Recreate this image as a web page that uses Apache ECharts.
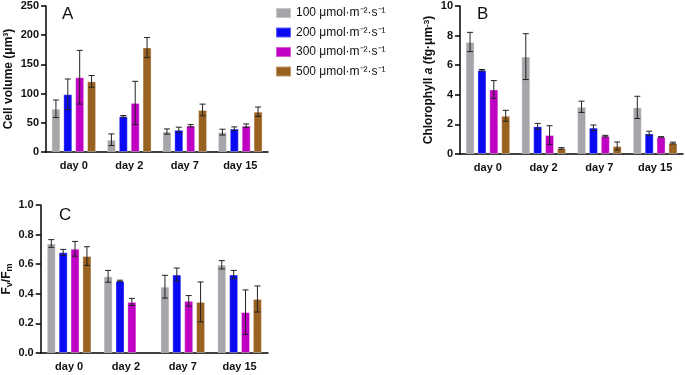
<!DOCTYPE html>
<html><head><meta charset="utf-8">
<script src="https://cdn.jsdelivr.net/npm/echarts@6/dist/echarts.min.js"></script>
<style>html,body{margin:0;padding:0;background:#fff}#c{width:685px;height:375px}</style>
</head><body><div id="c"></div>
<script>
const categories = ['day 0', 'day 2', 'day 7', 'day 15'];
const intensities = ['100', '200', '300', '500'];
const colors = ['#a6a6aa', '#0a0af2', '#c000c2', '#9a6220'];

// Panel A: cell volume (µm3)
const volMean = [
  [74, 21, 35, 34],
  [99, 61, 38, 40],
  [128, 84, 45, 45],
  [121, 179, 72, 69]
];
const volErr = [
  [15, 10, 4.5, 5],
  [26, 1.5, 4.5, 3],
  [46, 37, 2, 3],
  [10, 17, 10, 8]
];
// Panel B: chlorophyll a (fg/µm3)
const chlMean = [
  [7.57, 6.58, 3.19, 3.15],
  [5.66, 1.87, 1.78, 1.39],
  [4.36, 1.28, 1.21, 1.15],
  [2.58, 0.38, 0.54, 0.74]
];
const chlErr = [
  [0.65, 1.55, 0.38, 0.75],
  [0.05, 0.2, 0.18, 0.15],
  [0.6, 0.63, 0.05, 0.02],
  [0.37, 0.05, 0.27, 0.06]
];
// Panel C: Fv/Fm
const fvMean = [
  [0.74, 0.518, 0.448, 0.596],
  [0.68, 0.487, 0.53, 0.53],
  [0.704, 0.345, 0.352, 0.276],
  [0.655, null, 0.345, 0.365]
];
const fvErr = [
  [0.026, 0.04, 0.077, 0.028],
  [0.02, 0.005, 0.044, 0.028],
  [0.05, 0.024, 0.036, 0.15],
  [0.063, null, 0.135, 0.088]
];

const FONT = '"Liberation Sans", Arial, sans-serif';
const BW = 9, GAP = 0.32, N = 4;

function legendName(i) { return intensities[i] + ' μmol·m⁻²·s⁻¹'; }

function axisX(gi) {
  return {
    type: 'category', gridIndex: gi, data: categories,
    axisLine: { lineStyle: { color: '#000', width: 1.5 } },
    axisTick: { alignWithLabel: true, length: 5, lineStyle: { color: '#000', width: 1.5 } },
    axisLabel: { color: '#111', fontFamily: FONT, fontWeight: 'bold', fontSize: 11, margin: 8 },
    splitLine: { show: false }
  };
}
function axisY(gi, max, interval, name, nameGap, rich, fmt) {
  return {
    type: 'value', gridIndex: gi, min: 0, max: max, interval: interval,
    name: name, nameLocation: 'middle', nameGap: nameGap,
    nameTextStyle: { color: '#111', fontFamily: FONT, fontWeight: 'bold', fontSize: 12, rich: rich },
    axisLine: { show: true, lineStyle: { color: '#000', width: 1.5 } },
    axisTick: { show: true, length: 5, lineStyle: { color: '#000', width: 1.5 } },
    axisLabel: { color: '#111', fontFamily: FONT, fontWeight: 'bold', fontSize: 11, margin: 7, formatter: fmt },
    splitLine: { show: false }
  };
}

const series = [];
function addPanel(gi, means, errs) {
  for (let i = 0; i < N; i++) {
    series.push({
      type: 'bar', name: legendName(i), xAxisIndex: gi, yAxisIndex: gi,
      data: means[i], barWidth: BW, barGap: (GAP * 100) + '%',
      itemStyle: { color: colors[i], borderColor: 'rgba(255,255,255,0.35)', borderWidth: 1 },
      silent: true
    });
  }
  for (let i = 0; i < N; i++) {
    const d = [];
    for (let k = 0; k < categories.length; k++) {
      if (means[i][k] != null && errs[i][k] != null) d.push([k, means[i][k], errs[i][k]]);
    }
    series.push({
      type: 'custom', xAxisIndex: gi, yAxisIndex: gi, silent: true, z: 5,
      data: d,
      renderItem: (function (idx) {
        return function (params, api) {
          const k = api.value(0), m = api.value(1), e = api.value(2);
          const c = api.coord([k, m]);
          const total = N * BW + (N - 1) * BW * GAP;
          const x = c[0] - total / 2 + idx * BW * (1 + GAP) + BW / 2;
          const yt = api.coord([k, m + e])[1];
          const yb = api.coord([k, Math.max(0, m - e)])[1];
          const st = { stroke: '#222', lineWidth: 1 };
          return {
            type: 'group', children: [
              { type: 'line', shape: { x1: x, y1: yt, x2: x, y2: yb }, style: st },
              { type: 'line', shape: { x1: x - 3, y1: yt, x2: x + 3, y2: yt }, style: st },
              { type: 'line', shape: { x1: x - 3, y1: yb, x2: x + 3, y2: yb }, style: st }
            ]
          };
        };
      })(i)
    });
  }
}
addPanel(0, volMean, volErr);
addPanel(1, chlMean, chlErr);
addPanel(2, fvMean, fvErr);

const chart = echarts.init(document.getElementById('c'), null, { renderer: 'canvas' });
chart.setOption({
  animation: false,
  backgroundColor: '#fff',
  grid: [
    { left: 46, top: 6, width: 222, height: 146 },
    { left: 460, top: 6, width: 223, height: 148 },
    { left: 39, top: 205, width: 229, height: 148 }
  ],
  xAxis: [axisX(0), axisX(1), axisX(2)],
  yAxis: [
    axisY(0, 250, 50, 'Cell volume (μm³)', 31, {}, null),
    axisY(1, 10, 2, 'Chlorophyll {i|a} (fg·μm{s|-3})', 25, {
      i: { fontStyle: 'italic', fontWeight: 'bold', fontSize: 12, fontFamily: FONT, color: '#111' },
      s: { fontWeight: 'bold', fontSize: 8, fontFamily: FONT, color: '#111', verticalAlign: 'top', lineHeight: 8 }
    }, null),
    axisY(2, 1, 0.2, 'F{sub|v}/F{sub|m}', 21, {
      sub: { fontWeight: 'bold', fontSize: 9, fontFamily: FONT, color: '#111', verticalAlign: 'bottom', padding: [6, 0, 0, 0] }
    }, function (v) { return v.toFixed(1); })
  ],
  legend: {
    orient: 'vertical', left: 270, top: 1,
    data: intensities.map((_, i) => legendName(i)),
    itemWidth: 15, itemHeight: 10, itemGap: 5.5,
    icon: 'rect',
    textStyle: { fontFamily: FONT, fontSize: 12, color: '#111', lineHeight: 14 },
    selectedMode: false
  },
  graphic: [
    { type: 'text', left: 62, top: 6, style: { text: 'A', font: '17px ' + FONT, fill: '#111' } },
    { type: 'text', left: 477, top: 6, style: { text: 'B', font: '17px ' + FONT, fill: '#111' } },
    { type: 'text', left: 59, top: 207, style: { text: 'C', font: '17px ' + FONT, fill: '#111' } }
  ],
  series: series
});
</script></body></html>
